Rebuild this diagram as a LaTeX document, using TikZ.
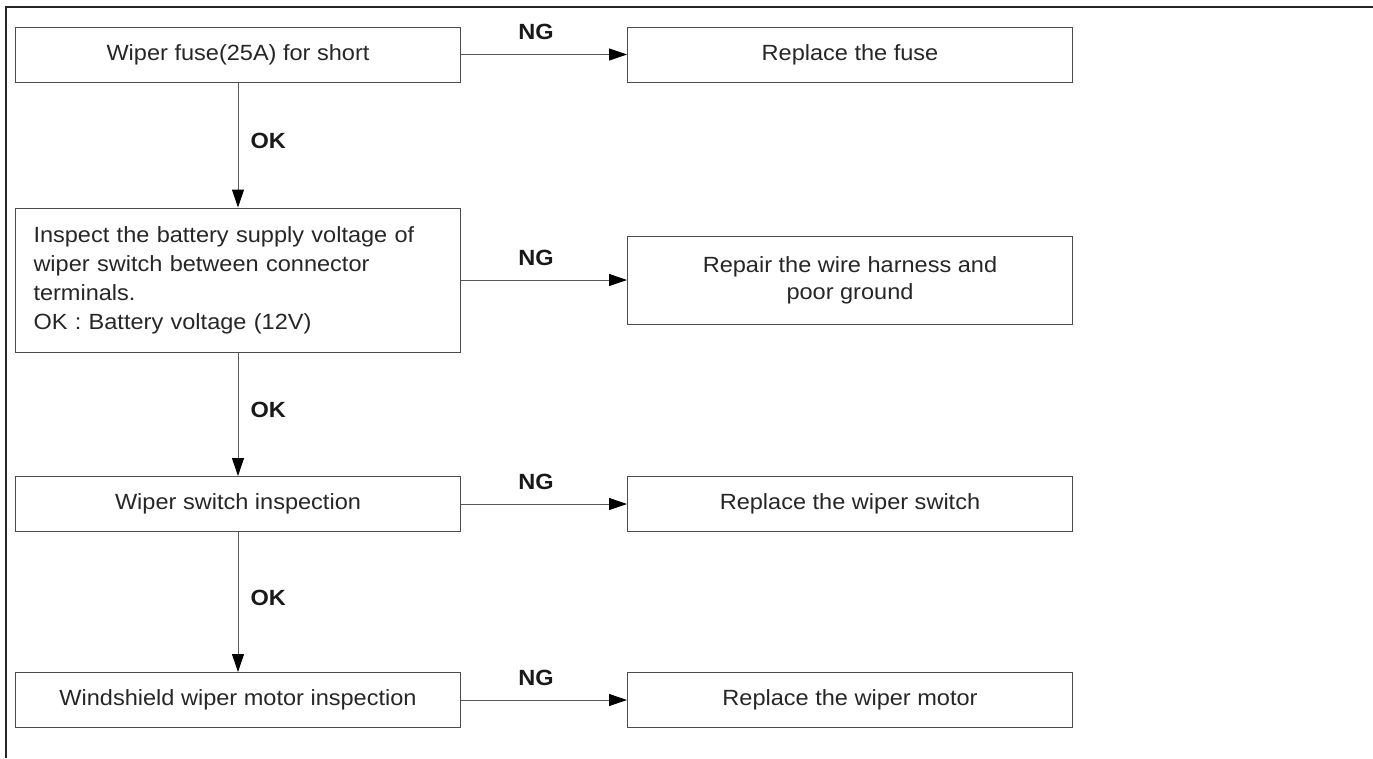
\documentclass[tikz,border=0pt]{standalone}
\usepackage{fontspec}
\setmainfont{Liberation Sans}[FakeStretch=1.07]
\usetikzlibrary{arrows.meta}

\begin{document}
\begin{tikzpicture}[x=1pt, y=-1pt,
    box/.style={draw=black!70, line width=1pt, inner sep=0pt, text=black!85,
      minimum width=445pt, minimum height=55pt, font=\fontsize{22}{29}\selectfont},
    link/.style={draw=black!65, line width=1pt, -{Triangle[length=18pt, width=12pt, black]}},
    tag/.style={inner sep=0pt, text=black!90, font=\fontsize{22}{26}\selectfont\bfseries}]
  \useasboundingbox (0,0) rectangle (1373,758);
  \draw[line width=2pt, black!85] (6,758) -- (6,7) -- (1373,7);

  % checks on the left
  \node[box] (fuse) at (238,54.5) {Wiper fuse(25A) for short};
  \node[box, minimum height=144pt, text width=409pt, align=left] (volt) at (238,280)
    {Inspect the battery supply voltage of\\wiper switch between connector\\terminals.\\OK : Battery voltage (12V)};
  \node[box] (swi) at (238,504) {Wiper switch inspection};
  \node[box] (mot) at (238,700) {Windshield wiper motor inspection};

  % actions on the right
  \node[box] (rfuse) at (850,54.5) {Replace the fuse};
  \node[box, minimum height=88pt, align=center, font=\fontsize{22}{27}\selectfont] (rvolt) at (850,280)
    {Repair the wire harness and\\poor ground};
  \node[box] (rswi) at (850,504) {Replace the wiper switch};
  \node[box] (rmot) at (850,700) {Replace the wiper motor};

  \foreach \a/\b in {fuse/volt, volt/swi, swi/mot}{
    \draw[link] (\a) -- node[tag, midway, right=12pt, yshift=4pt] {OK} (\b);
  }
  \foreach \a in {fuse, volt, swi, mot}{
    \draw[link] (\a) -- node[tag, midway, above=14pt, xshift=-8pt] {NG} (r\a);
  }
\end{tikzpicture}
\end{document}
